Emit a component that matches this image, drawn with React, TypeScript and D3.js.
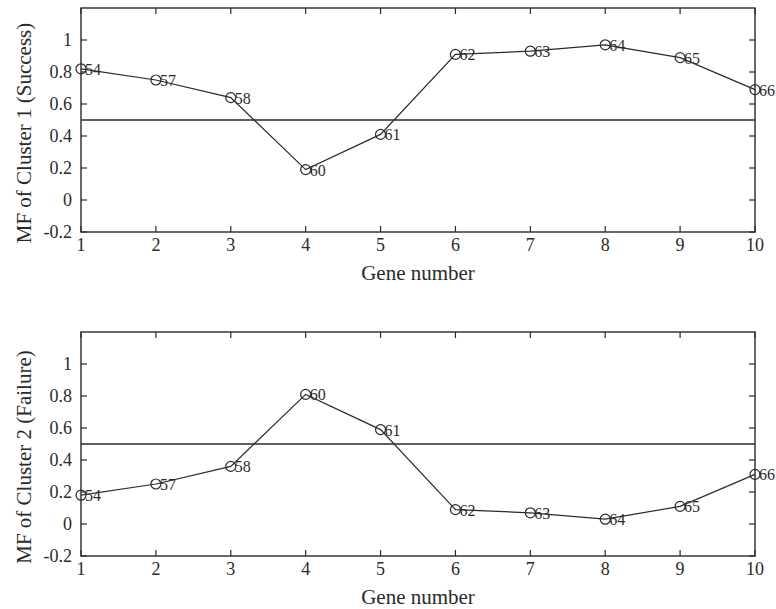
import React from "react";
import * as d3 from "d3";

// Gene indices along the x axis and the gene IDs labelled next to each point
const geneNumbers = [1, 2, 3, 4, 5, 6, 7, 8, 9, 10];
const geneIds = ["54", "57", "58", "60", "61", "62", "63", "64", "65", "66"];

// Membership function values per cluster
const cluster1Success = [0.82, 0.75, 0.64, 0.19, 0.41, 0.91, 0.93, 0.97, 0.89, 0.69];
const cluster2Failure = [0.18, 0.25, 0.36, 0.81, 0.59, 0.09, 0.07, 0.03, 0.11, 0.31];

const yTicks = [-0.2, 0, 0.2, 0.4, 0.6, 0.8, 1];
const threshold = 0.5;

const W = 776;
const H = 609;
const FONT = "'Liberation Serif', 'DejaVu Serif', serif";
const INK = "#2a2a2a";

type PanelProps = {
  top: number;
  values: number[];
  yLabel: string;
};

function Panel({ top, values, yLabel }: PanelProps) {
  const left = 81;
  const right = 755;
  const height = 224;
  const x = d3.scaleLinear().domain([1, 10]).range([left, right]);
  const y = d3.scaleLinear().domain([-0.2, 1.2]).range([top + height, top]);
  const line = d3
    .line<number>()
    .x((_, i) => x(geneNumbers[i]))
    .y((v) => y(v));
  const tick = 6;
  const bottom = top + height;

  return (
    <g>
      {/* frame */}
      <rect x={left} y={top} width={right - left} height={height} fill="none" stroke={INK} strokeWidth={1.4} />
      {/* x ticks on bottom and top, pointing inward */}
      {geneNumbers.map((g) => (
        <g key={`xt${g}`}>
          <line x1={x(g)} x2={x(g)} y1={bottom} y2={bottom - tick} stroke={INK} strokeWidth={1.2} />
          <line x1={x(g)} x2={x(g)} y1={top} y2={top + tick} stroke={INK} strokeWidth={1.2} />
          <text x={x(g)} y={bottom + 19} textAnchor="middle" fontFamily={FONT} fontSize={18} fill={INK}>
            {g}
          </text>
        </g>
      ))}
      {/* y ticks on left and right */}
      {yTicks.map((t) => (
        <g key={`yt${t}`}>
          <line x1={left} x2={left + tick} y1={y(t)} y2={y(t)} stroke={INK} strokeWidth={1.2} />
          <line x1={right} x2={right - tick} y1={y(t)} y2={y(t)} stroke={INK} strokeWidth={1.2} />
          <text x={left - 9} y={y(t) + 6} textAnchor="end" fontFamily={FONT} fontSize={18} fill={INK}>
            {t}
          </text>
        </g>
      ))}
      {/* 0.5 threshold */}
      <line x1={left} x2={right} y1={y(threshold)} y2={y(threshold)} stroke={INK} strokeWidth={1.3} />
      {/* series */}
      <path d={line(values) ?? ""} fill="none" stroke={INK} strokeWidth={1.2} />
      {values.map((v, i) => (
        <g key={`p${i}`}>
          <circle cx={x(geneNumbers[i])} cy={y(v)} r={5} fill="none" stroke={INK} strokeWidth={1.2} />
          <text x={x(geneNumbers[i]) + 4} y={y(v) + 6} fontFamily={FONT} fontSize={16} fill={INK}>
            {geneIds[i]}
          </text>
        </g>
      ))}
      {/* axis titles */}
      <text x={(left + right) / 2} y={bottom + 48} textAnchor="middle" fontFamily={FONT} fontSize={21} fill={INK}>
        Gene number
      </text>
      <text
        transform={`translate(31, ${top + height / 2 + 13}) rotate(-90)`}
        textAnchor="middle"
        fontFamily={FONT}
        fontSize={21}
        fill={INK}
      >
        {yLabel}
      </text>
    </g>
  );
}

export default function App() {
  return (
    <svg width={W} height={H} style={{ position: "absolute", left: 0, top: 0, background: "#fff" }}>
      <rect width={W} height={H} fill="#fff" />
      <Panel top={8} values={cluster1Success} yLabel="MF of Cluster 1 (Success)" />
      <Panel top={332} values={cluster2Failure} yLabel="MF of Cluster 2 (Failure)" />
    </svg>
  );
}
